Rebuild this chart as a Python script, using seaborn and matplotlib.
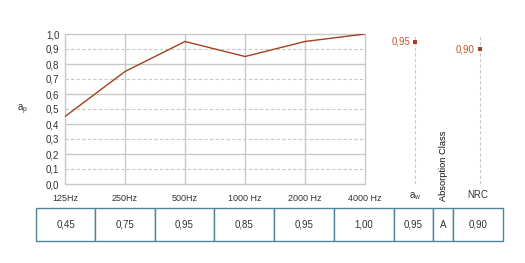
import matplotlib
matplotlib.use("Agg")
import matplotlib.pyplot as plt
import seaborn as sns
import pandas as pd

freqs = ["125", "250", "500", "1000", "2000", "4000"]
freq_units = ["Hz", "Hz", "Hz", " Hz", " Hz", " Hz"]
alpha_p = [0.45, 0.75, 0.95, 0.85, 0.95, 1.00]
alpha_w = 0.95
absorption_class = "A"
nrc = 0.90
y_ticks = [0.0, 0.1, 0.2, 0.3, 0.4, 0.5, 0.6, 0.7, 0.8, 0.9, 1.0]

sns.set_theme(style="white")
plt.rcParams['font.family'] = ['Liberation Sans', 'DejaVu Sans']

W, H = 525, 263
fig = plt.figure(figsize=(W / 100, H / 100), dpi=100)
fig.patch.set_facecolor("white")

def px_rect(x0, y0, x1, y1):
    return [x0 / W, (H - y1) / H, (x1 - x0) / W, (y1 - y0) / H]

line_col = "#a3401e"
grid_col = "#c8c8c8"
txt_col = "#333333"
fs = 7

# main chart
ax = fig.add_axes(px_rect(65, 34, 365, 184))
df = pd.DataFrame({"pos": list(range(len(freqs))), "val": alpha_p})
for yv in y_ticks:
    i = int(round(yv * 10))
    if i % 2 == 0:
        ax.axhline(yv, color=grid_col, lw=1.0, zorder=0, clip_on=False)
    else:
        ax.axhline(yv, color=grid_col, lw=0.8, ls=(0, (3, 2)), zorder=0, clip_on=False)
for p in df["pos"]:
    ax.axvline(p, color=grid_col, lw=1.0, zorder=0, clip_on=False)
sns.lineplot(data=df, x="pos", y="val", ax=ax, color=line_col, lw=1.0)
ax.set_xlim(0, len(freqs) - 1)
ax.set_ylim(0, 1)
ax.set_yticks(y_ticks)
ax.set_yticklabels([f"{v:.1f}".replace(".", ",") for v in y_ticks], fontsize=fs, color=txt_col)
ax.set_xticks(df["pos"])
ax.set_xticklabels([f + u for f, u in zip(freqs, freq_units)], fontsize=fs - 0.5, color=txt_col)
ax.tick_params(axis="both", length=0, pad=4)
ax.tick_params(axis="x", pad=7)
for s in ax.spines.values():
    s.set_visible(False)
ax.set_xlabel("")
ax.set_ylabel("")
fig.text(17 / W, 1 - 110 / H, r"a$_{\mathregular{p}}$", fontsize=fs, color=txt_col, ha="left", va="center")

# right-side single values
ax2 = fig.add_axes(px_rect(365, 34, 525, 184))
ax2.set_xlim(365, 525)
ax2.set_ylim(0, 1)
ax2.axis("off")
side_df = pd.DataFrame({"x": [415, 480], "val": [alpha_w, nrc]})
for xv in side_df["x"]:
    ax2.axvline(xv, ymin=0, ymax=1, color=grid_col, lw=0.8, ls=(0, (3, 2)), zorder=0)
sns.scatterplot(data=side_df, x="x", y="val", ax=ax2, color=line_col, s=5, marker="s", linewidth=0)
for xv, v in zip(side_df["x"], side_df["val"]):
    ax2.text(xv - 5, v, f"{v:.2f}".replace(".", ","), color="#c0562a", fontsize=fs, ha="right", va="center")
ax2.set_xlabel("")
ax2.set_ylabel("")

fig.text(415 / W, 1 - 196 / H, r"a$_{\mathregular{w}}$", fontsize=fs, color=txt_col, ha="center", va="center")
fig.text(478 / W, 1 - 195 / H, "NRC", fontsize=fs, color=txt_col, ha="center", va="center")
fig.text(444 / W, 1 - 201 / H, "Absorption Class", fontsize=fs - 0.3, color="#111111", ha="center", va="bottom", rotation=90)

# table
tax = fig.add_axes(px_rect(36, 208, 503, 241))
tax.axis("off")
cells = [f"{v:.2f}".replace(".", ",") for v in alpha_p] + [f"{alpha_w:.2f}".replace(".", ","), absorption_class, f"{nrc:.2f}".replace(".", ",")]
widths = [59.3, 59.4, 59.6, 59.7, 60.0, 59.7, 39.7, 20.0, 49.6]
tot = sum(widths)
tbl = tax.table(cellText=[cells], colWidths=[w / tot for w in widths], bbox=[0, 0, 1, 1], cellLoc="center")
tbl.auto_set_font_size(False)
for (r, c), cell in tbl.get_celld().items():
    cell.set_edgecolor("#4f849c")
    cell.set_linewidth(1.0)
    cell.get_text().set_fontsize(fs)
    cell.get_text().set_color(txt_col)

fig.savefig("out.png", dpi=100, facecolor="white")
